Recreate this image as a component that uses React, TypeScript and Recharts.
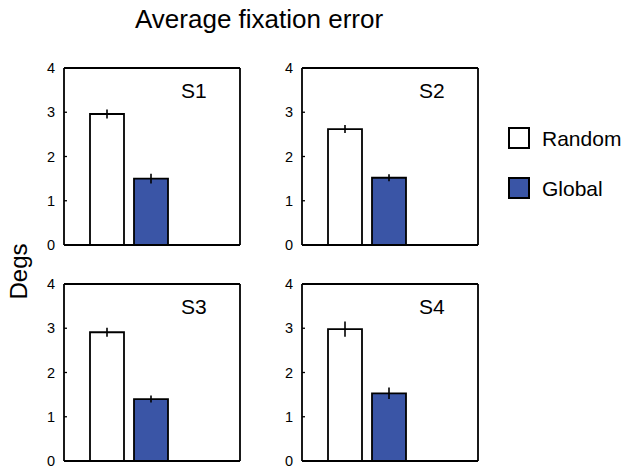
import { BarChart, Bar, Cell, XAxis, YAxis, ErrorBar } from "recharts";

const conditions = ["Random", "Global"];
const conditionColors = ["#ffffff", "#3a55a6"];
const yTicks = [0, 1, 2, 3, 4];

const subjects = ["S1", "S2", "S3", "S4"];
const s1Means = [2.96, 1.5];
const s1Errs = [0.1, 0.11];
const s2Means = [2.62, 1.52];
const s2Errs = [0.09, 0.08];
const s3Means = [2.91, 1.4];
const s3Errs = [0.1, 0.08];
const s4Means = [2.98, 1.53];
const s4Errs = [0.17, 0.13];

const FONT = "'Liberation Sans', Arial, Helvetica, sans-serif";
const PLOT_W = 176;
const PLOT_H = 177;
const LABEL_GAP = 9;
const INNER_TICK = 3;
const LINE_W = 1.8;

// left axis: label plus a short tick pointing into the plot
function LeftTick(props: any) {
  const { x, y, payload } = props;
  return (
    <g>
      <line
        x1={x + LABEL_GAP}
        x2={x + LABEL_GAP + INNER_TICK}
        y1={y}
        y2={y}
        stroke="#000"
        strokeWidth={1.3}
      />
      <text
        x={x}
        y={y}
        dy={5}
        textAnchor="end"
        fontSize={14.5}
        fontFamily={FONT}
        fill="#000"
      >
        {payload.value}
      </text>
    </g>
  );
}

// right axis: only the inward tick
function RightTick(props: any) {
  const { x, y } = props;
  return (
    <line
      x1={x}
      x2={x - INNER_TICK}
      y1={y}
      y2={y}
      stroke="#000"
      strokeWidth={1.3}
    />
  );
}

type PanelProps = {
  label: string;
  means: number[];
  errs: number[];
  left: number;
  top: number;
};

function Panel({ label, means, errs, left, top }: PanelProps) {
  const data = conditions.map((cond, i) => ({
    cond,
    mean: means[i],
    err: errs[i],
  }));

  return (
    <div style={{ position: "absolute", left: left - 30, top: top - 10 }}>
      <BarChart
        width={30 + PLOT_W + 10}
        height={PLOT_H + 20}
        data={data}
        margin={{ top: 9, right: 9, bottom: 9, left: 0 }}
      >
        <XAxis
          dataKey="cond"
          height={1}
          tick={false}
          tickLine={false}
          axisLine={{ stroke: "#000", strokeWidth: LINE_W }}
          padding={{ left: 21, right: 67 }}
        />
        <XAxis
          xAxisId="top"
          orientation="top"
          dataKey="cond"
          height={1}
          tick={false}
          tickLine={false}
          axisLine={{ stroke: "#000", strokeWidth: LINE_W }}
        />
        <YAxis
          width={30}
          domain={[0, 4]}
          ticks={yTicks}
          interval={0}
          tickSize={0}
          tickMargin={LABEL_GAP}
          tickLine={false}
          axisLine={{ stroke: "#000", strokeWidth: LINE_W }}
          tick={<LeftTick />}
        />
        <YAxis
          yAxisId="right"
          orientation="right"
          width={1}
          domain={[0, 4]}
          ticks={yTicks}
          interval={0}
          tickSize={0}
          tickMargin={0}
          tickLine={false}
          tick={<RightTick />}
          axisLine={{ stroke: "#000", strokeWidth: LINE_W }}
        />
        <Bar
          dataKey="mean"
          barSize={34}
          stroke="#000"
          strokeWidth={LINE_W}
          isAnimationActive={false}
        >
          {data.map((d, i) => (
            <Cell key={d.cond} fill={conditionColors[i]} />
          ))}
          <ErrorBar
            dataKey="err"
            width={0}
            stroke="#000"
            strokeWidth={1.6}
            isAnimationActive={false}
          />
        </Bar>
      </BarChart>
      <div
        style={{
          position: "absolute",
          left: 30 + 117,
          top: 10 + 12,
          fontSize: 21,
          fontFamily: FONT,
          lineHeight: "21px",
        }}
      >
        {label}
      </div>
    </div>
  );
}

export default function App() {
  return (
    <div
      style={{
        position: "absolute",
        left: 0,
        top: 0,
        width: 632,
        height: 468,
        background: "#fff",
        fontFamily: FONT,
        color: "#000",
      }}
    >
      <Panel label={subjects[0]} means={s1Means} errs={s1Errs} left={64} top={68} />
      <Panel label={subjects[1]} means={s2Means} errs={s2Errs} left={302} top={68} />
      <Panel label={subjects[2]} means={s3Means} errs={s3Errs} left={64} top={284} />
      <Panel label={subjects[3]} means={s4Means} errs={s4Errs} left={302} top={284} />

      <svg
        width={632}
        height={468}
        style={{ position: "absolute", left: 0, top: 0, pointerEvents: "none" }}
      >
        <text x={135} y={28} fontSize={26} fontFamily={FONT} fill="#000">
          Average fixation error
        </text>
        <text
          x={0}
          y={0}
          fontSize={24}
          fontFamily={FONT}
          fill="#000"
          textAnchor="middle"
          transform="translate(27, 271.5) rotate(-90)"
        >
          Degs
        </text>
        {conditions.map((cond, i) => (
          <g key={cond}>
            <rect
              x={509}
              y={128 + i * 50}
              width={20}
              height={20}
              fill={conditionColors[i]}
              stroke="#000"
              strokeWidth={2}
            />
            <text
              x={542}
              y={145.5 + i * 50}
              fontSize={21}
              fontFamily={FONT}
              fill="#000"
            >
              {cond}
            </text>
          </g>
        ))}
      </svg>
    </div>
  );
}
